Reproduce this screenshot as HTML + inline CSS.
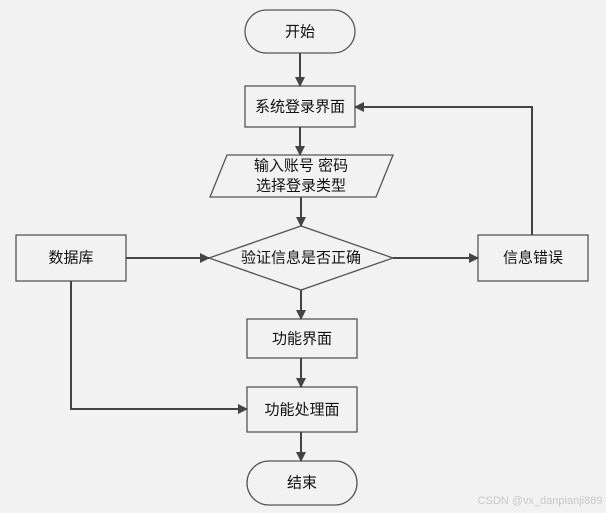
<!DOCTYPE html>
<html><head><meta charset="utf-8"><style>
html,body{margin:0;padding:0;background:#f2f2f2;}
svg{display:block}
text{font-family:"Liberation Sans","Noto Sans CJK SC",sans-serif;font-size:15px;fill:#111;text-anchor:middle;dominant-baseline:central}
</style></head><body>
<svg width="606" height="513" viewBox="0 0 606 513" xmlns="http://www.w3.org/2000/svg">
<defs><marker id="a" markerWidth="10" markerHeight="10" refX="9" refY="5" orient="auto" markerUnits="userSpaceOnUse"><path d="M0,0 L10,5 L0,10 z" fill="#444"/></marker></defs>
<g fill="#f2f2f2" stroke="#555" stroke-width="1.3">
<rect x="245" y="10" width="110" height="43" rx="21.5"/>
<rect x="245" y="86" width="110" height="41"/>
<polygon points="227,155 393,155 376,197 210,197"/>
<polygon points="209,258 301,226 393,258 301,290"/>
<rect x="16" y="235" width="110" height="46"/>
<rect x="478" y="235" width="110" height="46"/>
<rect x="247" y="319" width="110" height="39"/>
<rect x="247" y="387" width="110" height="45"/>
<rect x="247" y="461" width="110" height="44" rx="22"/>
</g>
<g stroke="#444" stroke-width="2" fill="none" marker-end="url(#a)">
<line x1="300" y1="53" x2="300" y2="86"/>
<line x1="300" y1="127" x2="300" y2="155"/>
<line x1="301" y1="197" x2="301" y2="226"/>
<line x1="126" y1="258" x2="209" y2="258"/>
<line x1="393" y1="258" x2="478" y2="258"/>
<polyline points="532,235 532,107 355,107"/>
<line x1="301" y1="290" x2="301" y2="319"/>
<line x1="301" y1="358" x2="301" y2="387"/>
<polyline points="71,281 71,409 247,409"/>
<line x1="301" y1="432" x2="301" y2="461"/>
</g>
<text x="300" y="32">开始</text>
<text x="300" y="107">系统登录界面</text>
<text x="301" y="166">输入账号 密码</text>
<text x="301" y="186">选择登录类型</text>
<text x="301" y="258">验证信息是否正确</text>
<text x="71" y="258">数据库</text>
<text x="533" y="258">信息错误</text>
<text x="302" y="339">功能界面</text>
<text x="302" y="410">功能处理面</text>
<text x="302" y="483">结束</text>
<text x="540" y="501" style="font-size:11px;fill:#c8c8c8">CSDN @vx_danpianji889</text>
</svg>
</body></html>
